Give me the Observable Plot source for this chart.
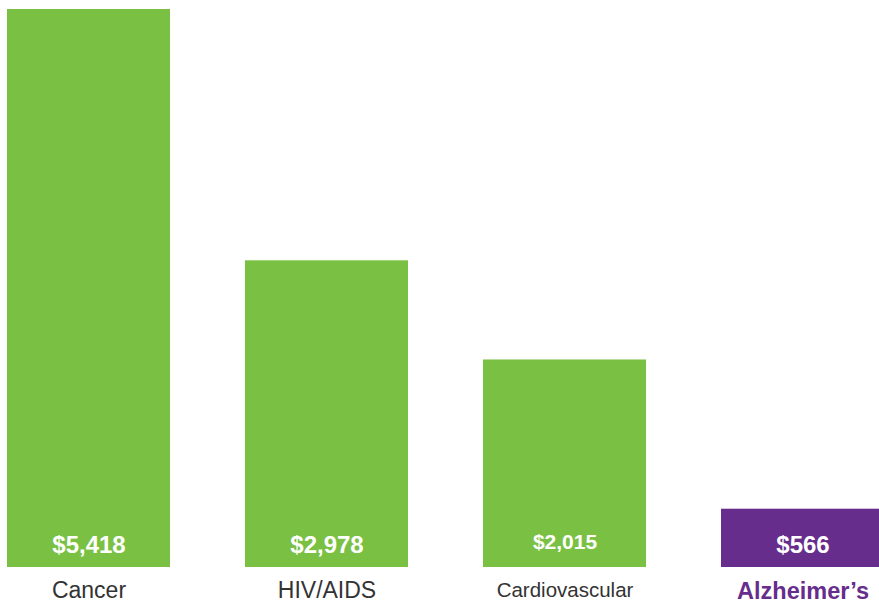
<!DOCTYPE html>
<html>
<head>
<meta charset="utf-8">
<script src="https://cdn.jsdelivr.net/npm/d3@7"></script>
<script src="https://cdn.jsdelivr.net/npm/@observablehq/plot@0.6"></script>
<style>
  html, body { margin: 0; padding: 0; background: #fff; }
  #chart svg { display: block; }
</style>
</head>
<body>
<div id="chart"></div>
<script>
const categories = ["Cancer", "HIV/AIDS", "Cardiovascular", "Alzheimer’s"];
const values = [5418, 2978, 2015, 566];
const highlight = "Alzheimer’s";

const data = categories.map((c, i) => ({cat: c, value: values[i]}));
const green = "#7ac143";
const purple = "#662d8c";
const fmt = d3.format("$,");
const font = "'Liberation Sans', Arial, sans-serif";

const isCardio = d => d.cat === "Cardiovascular";
const isHi = d => d.cat === highlight;

const chart = Plot.plot({
  width: 879,
  height: 603,
  margin: 0,
  style: {fontFamily: font, background: "white"},
  x: {domain: categories, range: [6, 885], paddingInner: 0.317, paddingOuter: 0, axis: null},
  y: {domain: [0, 5418], range: [567, 9], axis: null},
  color: {type: "identity"},
  marks: [
    Plot.barY(data, {x: "cat", y: "value", fill: d => isHi(d) ? purple : green}),
    Plot.text(data.filter(d => !isCardio(d)), {x: "cat", y: 0, text: d => fmt(d.value), dy: -22.5, fill: "white", fontWeight: "bold", fontSize: 24}),
    Plot.text(data.filter(isCardio), {x: "cat", y: 0, text: d => fmt(d.value), dy: -25.5, fill: "white", fontWeight: "bold", fontSize: 21}),
    Plot.text(data.filter(d => !isCardio(d) && !isHi(d)), {x: "cat", y: 0, text: "cat", dy: 23.5, fill: "#333", fontSize: 23}),
    Plot.text(data.filter(isCardio), {x: "cat", y: 0, text: "cat", dy: 22.5, fill: "#333", fontSize: 20.5}),
    Plot.text(data.filter(isHi), {x: "cat", y: 0, text: "cat", dy: 23.5, fill: purple, fontWeight: "bold", fontSize: 23.5})
  ]
});
document.getElementById("chart").append(chart);
</script>
</body>
</html>
